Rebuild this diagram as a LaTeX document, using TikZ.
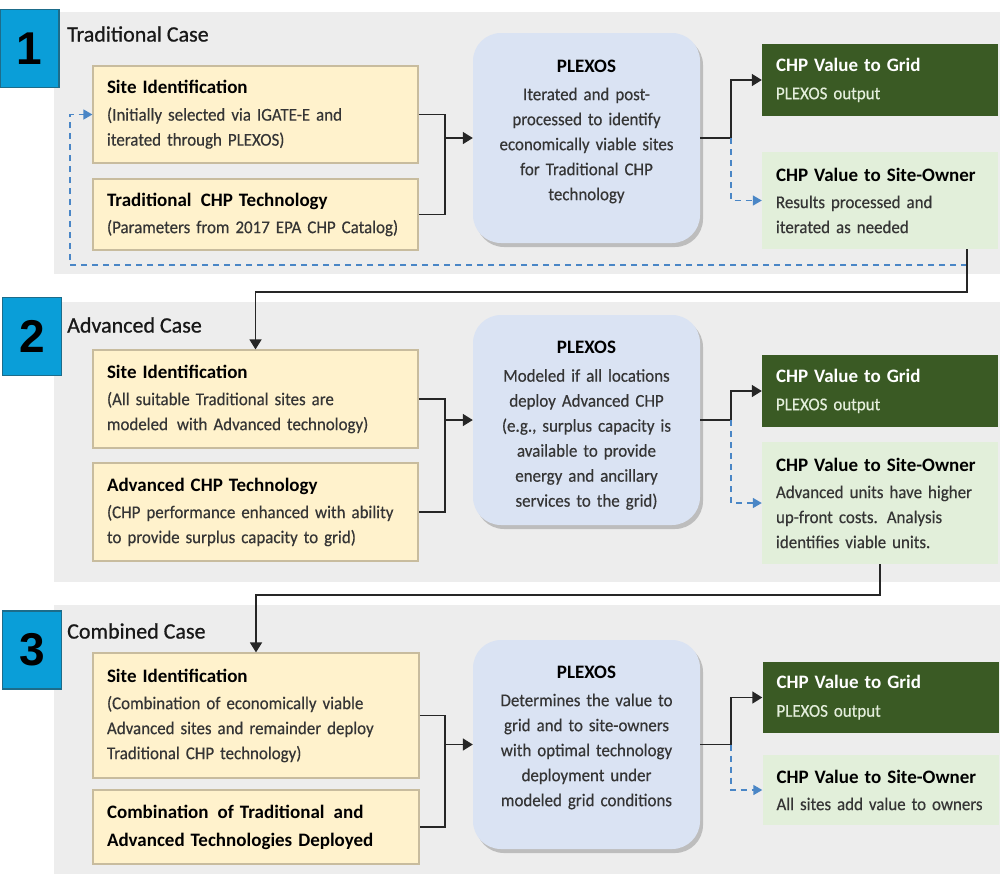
\documentclass[tikz,border=0pt]{standalone}
\usepackage{fontspec}
\setmainfont{Carlito}
\newfontfamily\bodyfont{Carlito}[FakeStretch=0.94,WordSpace=0.85,FakeBold=0.35]
\newfontfamily\casefont{Carlito}[FakeBold=0.8]
\newfontfamily\numfont{Liberation Sans}
\usetikzlibrary{arrows.meta,shadows}
\definecolor{panelgray}{HTML}{EDEDED}
\definecolor{yfill}{HTML}{FFF2CC}
\definecolor{ybord}{HTML}{C8BC9E}
\definecolor{pfill}{HTML}{DAE3F3}
\definecolor{gdark}{HTML}{3A5A24}
\definecolor{glight}{HTML}{E2EFDA}
\definecolor{gsub}{HTML}{E4EEDC}
\definecolor{nblue}{HTML}{0A9ED8}
\definecolor{nbord}{HTML}{1D6C8A}
\definecolor{dblue}{HTML}{4A86C6}
\definecolor{bodytxt}{HTML}{353535}
\newcommand\ttlb[1]{{\rmfamily\bfseries\color{black}\fontsize{19}{25}\selectfont #1}}
\newcommand\ttlw[1]{{\rmfamily\bfseries\color{white}\fontsize{19}{25}\selectfont #1}}
\begin{document}
\begin{tikzpicture}[x=1pt,y=-1pt,
  numbox/.style={fill=nblue,draw=nbord,line width=1.5pt,inner sep=0pt,minimum width=59pt,minimum height=78pt,font=\numfont\bfseries\fontsize{46}{46}\selectfont},
  casetitle/.style={anchor=west,inner sep=0pt,font=\casefont\fontsize{22}{25}\selectfont,text=black!90},
  ybox/.style={draw=ybord,fill=yfill,line width=1.2pt,inner xsep=14pt,inner ysep=0pt,minimum width=#1,text width=#1-28pt,align=left,font=\bodyfont\fontsize{18}{25}\selectfont,text=bodytxt},
  pbox/.style={fill=pfill,rounded corners=28pt,draw=none,drop shadow={shadow xshift=3pt,shadow yshift=-4pt,opacity=0.35,fill=black!60},minimum width=227pt,inner sep=0pt},
  ptext/.style={text width=215pt,inner sep=0pt,align=center,font=\bodyfont\fontsize{18}{25}\selectfont,text=bodytxt},
  gbox/.style={fill=gdark,draw=none,minimum width=236pt,text width=208pt,inner xsep=14pt,inner ysep=0pt,align=left,font=\bodyfont\fontsize{18}{25}\selectfont,text=gsub},
  obox/.style={fill=glight,draw=none,minimum width=236pt,text width=208pt,inner xsep=14pt,inner ysep=0pt,align=left,font=\bodyfont\fontsize{18}{25}\selectfont,text=bodytxt},
  conn/.style={draw=black!85,line width=1.6pt},
  arr/.style={conn,-{Triangle[length=10pt,width=12pt]}},
  dconn/.style={draw=dblue,line width=1.5pt,dash pattern=on 6pt off 5pt},
  darr/.style={dconn,-{Triangle[length=9pt,width=10pt,fill=dblue]}}
]
\useasboundingbox (0,0) rectangle (1008,876);
% panels
\fill[panelgray] (54,12) rectangle (1000,274);
\fill[panelgray] (54,302) rectangle (1000,582);
\fill[panelgray] (54,605) rectangle (1000,874);
% number boxes
\node[numbox] (n1) at (29.5,48.5) {1};
\node[numbox] (n2) at (32,336.5) {2};
\node[numbox] (n3) at (32,650) {3};
% case titles
\node[casetitle] (c1) at (67,34) {Traditional Case};
\node[casetitle] (c2) at (67,325) {Advanced Case};
\node[casetitle] (c3) at (67,631) {Combined Case};

% ---------- Section 1
\node[ybox=325pt,minimum height=97pt] (s1) at (255.5,114.5) {\ttlb{Site Identification}\\[2pt](Initially selected via IGATE-E and\\iterated through PLEXOS)};
\node[ybox=325pt,minimum height=71pt] (t1) at (255.5,214.5) {\ttlb{Traditional\, CHP Technology}\\[2pt](Parameters from 2017 EPA CHP Catalog)};
\node[pbox,minimum height=210pt] (p1) at (586.5,138) {};
\node[ptext] (p1t) at (586.5,131.5) {\ttlb{PLEXOS}\\[3pt]Iterated and post-\\processed to identify\\economically viable sites\\for Traditional CHP\\technology};
\node[gbox,minimum height=72pt] (g1) at (880,80) {\ttlw{CHP Value to Grid}\\[3pt]PLEXOS output};
\node[obox,minimum height=97pt] (o1) at (880,200.5) {\ttlb{CHP Value to Site-Owner}\\[2pt]Results processed and\\iterated as needed};

\coordinate (j1) at (445,138);
\coordinate (k1) at (731,138);
\draw[conn] (s1.east) -- (s1.east -| j1) -- (t1.east -| j1) -- (t1.east);
\draw[arr] (j1) -- (p1.west);
\draw[conn] (p1.east) -- (k1);
\draw[arr] (k1) |- (g1.west);
\draw[darr] (k1) |- (o1.west);

% ---------- Section 2
\node[ybox=325pt,minimum height=98pt] (s2) at (255.5,399) {\ttlb{Site Identification}\\[2pt](All suitable Traditional sites are\\modeled\, with Advanced technology)};
\node[ybox=325pt,minimum height=98pt] (a2) at (255.5,512) {\ttlb{Advanced CHP Technology}\\[2pt](CHP performance enhanced with ability\\to provide surplus capacity to grid)};
\node[pbox,minimum height=210pt] (p2) at (586.5,420) {};
\node[ptext] (p2t) at (586.5,425.5) {\ttlb{PLEXOS}\\[3pt]Modeled if all locations\\deploy Advanced CHP\\(e.g., surplus capacity is\\available to provide\\energy and ancillary\\services to the grid)};
\node[gbox,minimum height=72pt] (g2) at (880,391) {\ttlw{CHP Value to Grid}\\[3pt]PLEXOS output};
\node[obox,minimum height=122pt] (o2) at (880,503) {\ttlb{CHP Value to Site-Owner}\\[2pt]Advanced units have higher\\up-front costs. Analysis\\identifies viable units.};

\coordinate (j2) at (445,420);
\coordinate (k2) at (731,420);
\draw[conn] (s2.east) -- (s2.east -| j2) -- (a2.east -| j2) -- (a2.east);
\draw[arr] (j2) -- (p2.west);
\draw[conn] (p2.east) -- (k2);
\draw[arr] (k2) |- (g2.west);
\draw[darr] (k2) |- (o2.west);

% ---------- Section 3
\node[ybox=326pt,minimum height=125pt] (s3) at (256,715.5) {\ttlb{Site Identification}\\[2pt](Combination of economically viable\\Advanced sites and remainder deploy\\Traditional CHP technology)};
\node[ybox=326pt,minimum height=74pt] (cb3) at (256,827) {\ttlb{Combination\, of Traditional\, and}\\[3pt]\ttlb{Advanced Technologies Deployed}};
\node[pbox,minimum height=209pt] (p3) at (586.5,744.5) {};
\node[ptext] (p3t) at (586.5,737.5) {\ttlb{PLEXOS}\\[3pt]Determines the value to\\grid and to site-owners\\with optimal technology\\deployment under\\modeled grid conditions};
\node[gbox,minimum height=71pt] (g3) at (880.5,697.5) {\ttlw{CHP Value to Grid}\\[3pt]PLEXOS output};
\node[obox,minimum height=70pt] (o3) at (880.5,790) {\ttlb{CHP Value to Site-Owner}\\[2pt]All sites add value to owners};

\coordinate (j3) at (445,744.5);
\coordinate (k3) at (731,744.5);
\draw[conn] (s3.east) -- (s3.east -| j3) -- (cb3.east -| j3) -- (cb3.east);
\draw[arr] (j3) -- (p3.west);
\draw[conn] (p3.east) -- (k3);
\draw[arr] (k3) |- (g3.west);
\draw[darr] (k3) |- (o3.west);

% ---------- links between sections
\coordinate (d1) at (967,292);
\coordinate (e1) at (967,265);
\coordinate (l1) at (70,265);
\draw[darr] (e1) -- (l1) |- (s1.west);
\draw[arr] (o1.south -| d1) -- (d1) -| (s2.north);
\coordinate (d2) at (880,595);
\draw[arr] (o2.south -| d2) -- (d2) -| (s3.north);
\end{tikzpicture}
\end{document}
